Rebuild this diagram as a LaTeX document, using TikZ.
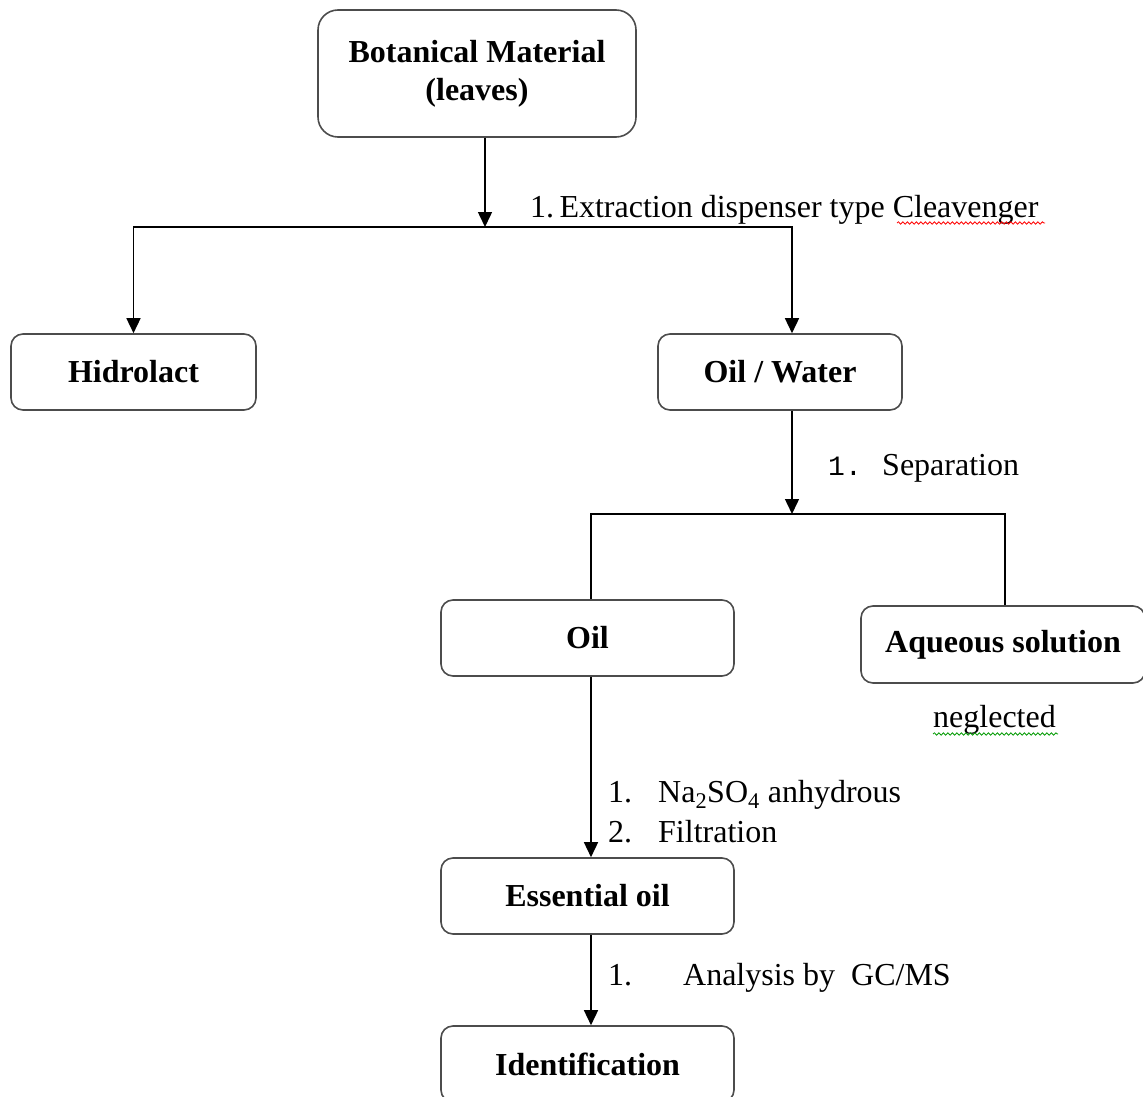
\documentclass[tikz,border=0pt]{standalone}
\usepackage{fontspec}
\setmainfont{Liberation Serif}
\setmonofont{Liberation Mono}
\usetikzlibrary{arrows.meta,decorations.pathmorphing}

\begin{document}
\begin{tikzpicture}[
  x=1pt,y=-1pt,
  box/.style={draw=black!70,line width=1.6pt,rounded corners=12pt,align=center,inner sep=0pt,
    minimum width=293pt,minimum height=76pt,font=\fontsize{32}{38}\selectfont\bfseries},
  arr/.style={-{Triangle[length=15pt,width=14pt]},line width=1.5pt},
  link/.style={line width=1.5pt},
  lbl/.style={anchor=base west,inner sep=0pt,font=\fontsize{32}{38}\selectfont},
  squiggle/.style={decorate,decoration={snake,amplitude=1.2pt,segment length=4.5pt},line width=0.8pt}
]
\useasboundingbox (0,0) rectangle (1143,1097);

\node[box,minimum width=318pt,minimum height=127pt,rounded corners=20pt] (botanic) at (477,73.5) {\raisebox{3pt}{Botanical Material}\\\raisebox{3pt}{(leaves)}};
\node[box,minimum width=245pt] (hidro) at (133.5,372) {Hidrolact};
\node[box,minimum width=244pt] (oilw) at (780,372) {Oil / Water};
\node[box] (oil) at (587.5,638) {Oil};
\node[box,minimum width=284pt,minimum height=77pt] (aqueous) at (1003,644.5) {Aqueous solution};
\node[box] (essoil) at (587.5,896) {Essential oil};
\node[box] (ident) at (587.5,1064) {Identification};

\coordinate (split1) at (485,227);
\coordinate (split2) at (792,514);

% extraction
\draw[arr] (botanic.south -| split1) -- (split1);
\draw[arr] (split1) -| (hidro.north);
\draw[arr] (split1) -| (oilw.north -| split2);
\node[lbl] (extract) at (530,217) {1.\,Extraction dispenser type Cleavenger};
\draw[red,squiggle] (897,223) -- (1045,223);

% separation
\draw[arr] (oilw.south -| split2) -- (split2);
\draw[link] (split2) -| ([xshift=3.5pt]oil.north);
\draw[link] (split2) -| ([xshift=2pt]aqueous.north);
\node[lbl] (separ) at (828,475) {\makebox[54pt][l]{\ttfamily\fontsize{28}{30}\selectfont 1.}Separation};
\node[lbl] (negl) at (933,727) {neglected};
\draw[green!60!black,squiggle] (933,734) -- (1058,734);

% drying
\draw[arr] ([xshift=3.5pt]oil.south) -- ([xshift=3.5pt]essoil.north);
\node[lbl] (dry1) at (608,802) {\makebox[50pt][l]{1.}Na\textsubscript{2}SO\textsubscript{4} anhydrous};
\node[lbl] (dry2) at (608,842) {\makebox[50pt][l]{2.}Filtration};

% analysis
\draw[arr] ([xshift=3.5pt]essoil.south) -- ([xshift=3.5pt]ident.north);
\node[lbl] (gcms) at (608,985) {\makebox[75pt][l]{1.}Analysis by\ \ GC/MS};
\end{tikzpicture}
\end{document}
